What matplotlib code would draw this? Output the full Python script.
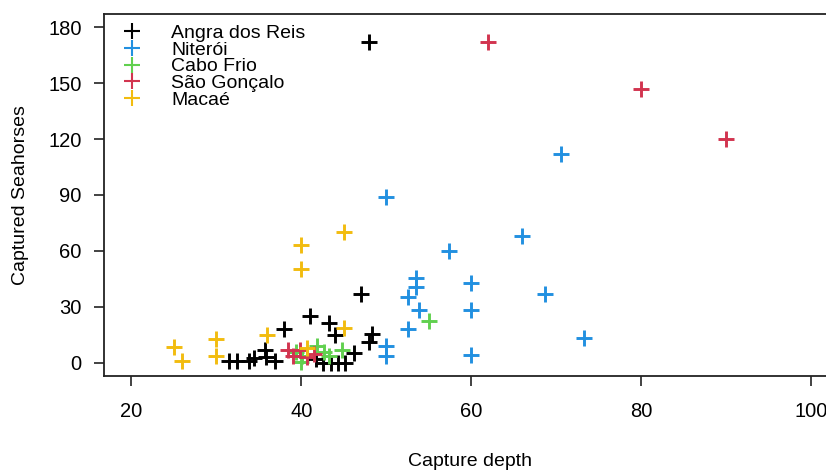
import matplotlib
matplotlib.use("Agg")
import matplotlib.pyplot as plt

plt.rcParams['font.family'] = ['Liberation Sans', 'DejaVu Sans']

# Captured seahorses vs capture depth, by site
sites = ["Angra dos Reis", "Niterói", "Cabo Frio", "São Gonçalo", "Macaé"]
colors = ["#000000", "#2290E0", "#61D04F", "#D2344F", "#F2BC0F"]

angra_x = [48, 47, 41, 38, 43.3, 44, 48.3, 48, 31.5, 32.5, 33.9, 34.5, 35.7, 35.8,
           36.9, 41.7, 42.5, 43.5, 44.3, 45.1, 46.2]
angra_y = [172, 37, 25, 18, 21, 15, 15.5, 11, 1, 1, 1, 2.5, 7, 3,
           1, 2, 0, 0, 0, 0, 5]

niteroi_x = [50, 70.6, 66, 57.4, 53.5, 53.5, 52.5, 60, 60, 53.8, 52.6, 68.7, 73.3, 60, 50, 50]
niteroi_y = [89, 112, 68, 60, 45.5, 40.5, 35, 43, 28, 28, 18, 37, 13, 4, 9, 3.5]

cabo_x = [55, 39.4, 40.1, 40, 41.9, 42.7, 43.3, 44.8]
cabo_y = [22.5, 5.5, 3.5, 0.5, 9, 5.5, 3.5, 7]

sgoncalo_x = [62, 80, 90, 38.4, 39, 39.8, 41.5, 40.7]
sgoncalo_y = [172, 147, 120, 7, 3.5, 6.5, 4.5, 3]

macae_x = [25, 26, 30, 30, 36, 40, 40, 45, 45, 40.7]
macae_y = [8.5, 1, 12.5, 3.5, 15, 63, 50, 70, 18.5, 8]

xs = [angra_x, niteroi_x, cabo_x, sgoncalo_x, macae_x]
ys = [angra_y, niteroi_y, cabo_y, sgoncalo_y, macae_y]

fig = plt.figure(figsize=(8.26, 4.71), dpi=100)
# plot region runs past the right edge, as in the original crop
ax = fig.add_axes([104 / 826, 95 / 471, 734.6 / 826, 362 / 471])

for name, col, x, y in zip(sites, colors, xs, ys):
    ax.plot(x, y, linestyle="none", marker="+", markersize=12, mew=2.1,
            color=col, label=name)

ax.set_xlim(16.8, 103.2)
ax.set_ylim(-7.2, 187.2)
ax.set_xticks([20, 40, 60, 80, 100])
ax.set_yticks([0, 30, 60, 90, 120, 150, 180])
ax.tick_params(direction="out", length=7, width=1.2, labelsize=14.5, color="#222222")
ax.tick_params(axis="x", pad=12)
ax.tick_params(axis="y", pad=9)
for sp in ax.spines.values():
    sp.set_linewidth(1.3)
    sp.set_color("#222222")

fig.text(470 / 826, 1 - 462 / 471, "Capture depth", ha="center", va="center", fontsize=14)
fig.text(21 / 826, 1 - 195 / 471, "Captured Seahorses", ha="center", va="center",
         rotation=90, fontsize=14)

leg = ax.legend(loc="upper left", bbox_to_anchor=(0.0249, 0.972), frameon=False,
                fontsize=14, handlelength=1.0, handletextpad=1.5,
                labelspacing=-0.04, borderpad=0, borderaxespad=0)
for h in leg.legend_handles:
    h.set_markersize(11)
    h.set_markeredgewidth(1.5)

fig.savefig("out.png", dpi=100)
